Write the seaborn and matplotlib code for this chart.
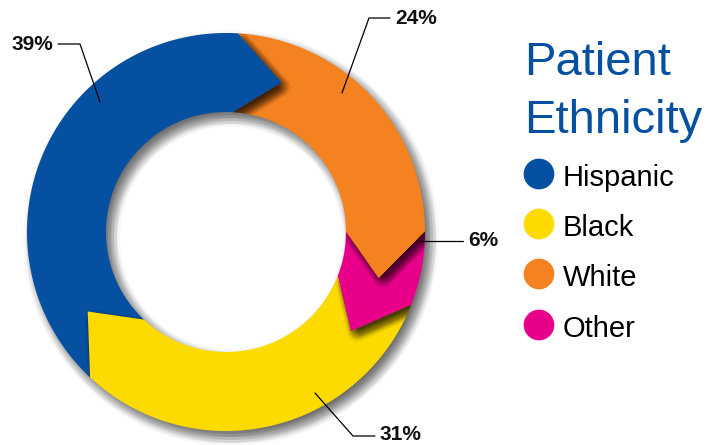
import numpy as np
import matplotlib.pyplot as plt
from matplotlib.patches import Polygon, Wedge
import seaborn as sns

# shares in percent, legend order
CATEGORIES = ["Hispanic", "Black", "White", "Other"]
SHARES = [39, 31, 24, 6]
COLORS = ["#0550A0", "#FEDB00", "#F48221", "#E8008A"]
# order of the arrows going clockwise round the ring
RING_ORDER = ["Hispanic", "White", "Other", "Black"]

sns.set_theme(style="white")
plt.rcParams['font.family'] = ['Liberation Sans', 'DejaVu Sans']
palette = dict(zip(CATEGORIES, sns.color_palette(COLORS)))
share = dict(zip(CATEGORIES, SHARES))

# ring layout in pixels
CX, CY = 226, 232
R_OUT, R_IN = 199, 120
R_MID = (R_OUT + R_IN) / 2
HEAD = 17          # arrow head length, degrees
END_FIRST = 86.5   # where the first arrow meets the next one, degrees


def pt(r, deg):
    t = np.radians(deg)
    return CX + r * np.cos(t), CY - r * np.sin(t)


def arrow(a, b):
    # a = start angle, b = end angle (clockwise, b < a)
    n = 120
    outer = [pt(R_OUT, t) for t in np.linspace(a, b, n)]
    inner = [pt(R_IN, t) for t in np.linspace(b, a, n)]
    return outer + [pt(R_MID, b - HEAD)] + inner + [pt(R_MID, a - HEAD)]


def blur_offsets(base, spread, steps=7):
    out = []
    for dx in np.linspace(-spread, spread, steps):
        for dy in np.linspace(-spread, spread, steps):
            if dx * dx + dy * dy <= spread * spread:
                out.append((base[0] + dx, base[1] + dy))
    return out


fig = plt.figure(figsize=(7.09, 4.45), dpi=100)
ax = fig.add_axes([0, 0, 1, 1])
ax.set_xlim(0, 709)
ax.set_ylim(445, 0)
ax.axis('off')

# soft shadow under the whole ring
offs = blur_offsets((5, 6), 9)
for dx, dy in offs:
    ax.add_patch(Wedge((CX + dx, CY + dy), R_OUT, 0, 360, width=R_OUT - R_IN,
                       facecolor='black', edgecolor='none', alpha=0.026))

total = sum(SHARES)
sweeps = [360 * share[c] / total for c in RING_ORDER]
start = END_FIRST + sweeps[0]
polys = []
a = start
for c, s in zip(RING_ORDER, sweeps):
    b = a - s
    polys.append(arrow(a, b))
    a = b

for c, verts in zip(RING_ORDER, polys):
    ax.add_patch(Polygon(verts, closed=True, facecolor=palette[c], edgecolor='none'))

# shadow of each arrow head on the next arrow
offs = blur_offsets((4, 5), 7)
for i, verts in enumerate(polys):
    nxt = Polygon(polys[(i + 1) % len(polys)], closed=True, transform=ax.transData)
    for dx, dy in offs:
        sh = Polygon([(x + dx, y + dy) for x, y in verts], closed=True,
                     facecolor='black', edgecolor='none', alpha=0.045)
        ax.add_patch(sh)
        sh.set_clip_path(nxt)

# percent labels with leader lines
LABEL_TEXT = {c: f"{share[c]}%" for c in CATEGORIES}
LEADERS = {
    "Hispanic": ([(58, 44), (80, 44), (100, 102)], (12, 44)),
    "White": ([(390, 18), (369, 18), (342, 93)], (395, 18)),
    "Other": ([(463, 241), (420, 241)], (468, 240)),
    "Black": ([(375, 436), (353, 436), (315, 393)], (379, 434)),
}
for c, (line, txt) in LEADERS.items():
    xs, ys = zip(*line)
    ax.plot(xs, ys, color='black', lw=0.9)
    ax.text(txt[0], txt[1], LABEL_TEXT[c], fontsize=15, fontweight='bold',
            ha='left', va='center', color='#111111')

# legend
ax.text(524, 75, "Patient", fontsize=34, color=COLORS[0], ha='left', va='baseline')
ax.text(524, 133, "Ethnicity", fontsize=34, color=COLORS[0], ha='left', va='baseline')
leg_y = [174, 224, 274, 325]
for c, y in zip(CATEGORIES, leg_y):
    ax.scatter([539], [y], s=490, color=palette[c], edgecolor='none', zorder=5)
    ax.text(563, y + 12, c, fontsize=21, color='black', ha='left', va='baseline')

fig.savefig("out.png", dpi=100)
